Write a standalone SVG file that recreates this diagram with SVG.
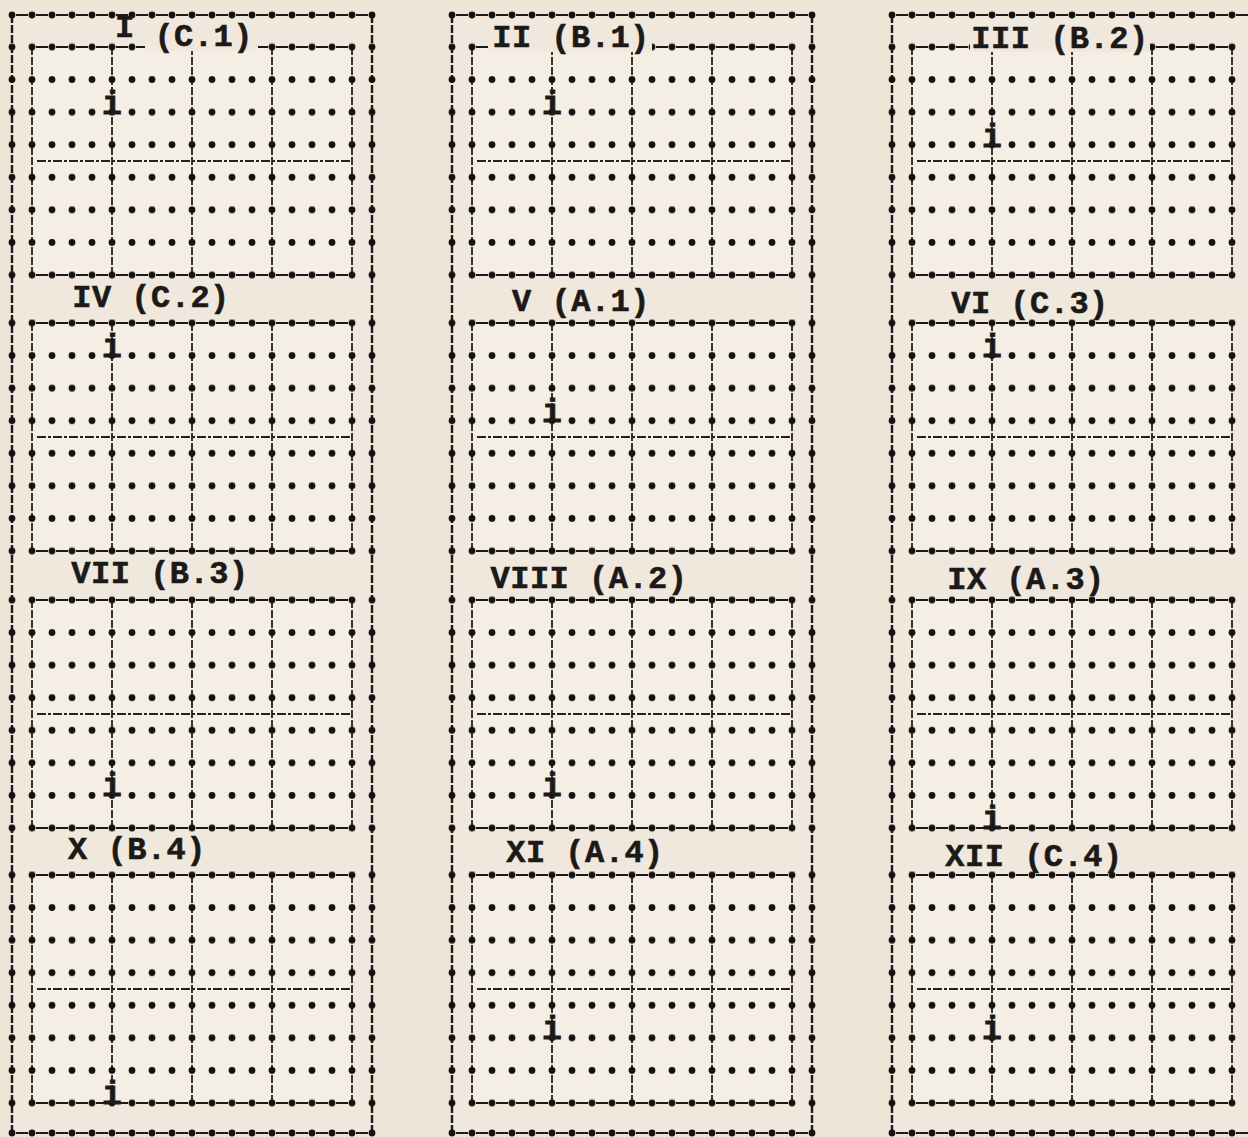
<svg xmlns="http://www.w3.org/2000/svg" xmlns:xlink="http://www.w3.org/1999/xlink" width="1248" height="1137" viewBox="0 0 1248 1137">
<style>
  .title{font-family:"Courier New","Liberation Mono",monospace;font-size:32px;font-weight:bold;fill:#1c1a18;stroke:#1c1a18;stroke-width:0.6px;letter-spacing:0.5px}
  .tc{text-anchor:middle}
  .mark{font-family:"Courier New","Liberation Mono",monospace;font-size:33px;font-weight:bold;fill:#1c1a18;stroke:#1c1a18;stroke-width:0.8px;text-anchor:middle}
  .edge{stroke:#1c1a18;stroke-width:2.2;stroke-dasharray:12 8;stroke-dashoffset:16;fill:none}
  .vline{stroke:#24201d;stroke-width:1.8;stroke-dasharray:8 2;fill:none}
  .mid{stroke:#24201d;stroke-width:2;stroke-dasharray:9 2 3 2;fill:none}
  .frame{stroke:#1c1a18;stroke-width:2.4;stroke-dasharray:8 2;fill:none}
  .ko{fill:#f0e8dc}
</style>
<defs>
  <pattern id="pdots" patternUnits="userSpaceOnUse" x="-10" y="-16.286" width="20" height="32.571">
    <circle cx="10" cy="16.286" r="3.4" fill="#141210"/>
  </pattern>
  <pattern id="hdots" patternUnits="userSpaceOnUse" x="2" y="-10" width="20" height="20">
    <circle cx="10" cy="10" r="3.4" fill="#141210"/>
  </pattern>
  <g id="grid">
    <rect x="0" y="0" width="320" height="228" fill="#f4eee5"/>
    <line class="vline" x1="0" y1="0" x2="0" y2="228"/>
    <line class="vline" x1="80" y1="0" x2="80" y2="228"/>
    <line class="vline" x1="160" y1="0" x2="160" y2="228"/>
    <line class="vline" x1="240" y1="0" x2="240" y2="228"/>
    <line class="vline" x1="320" y1="0" x2="320" y2="228"/>
    <line class="mid" x1="5" y1="114" x2="318" y2="114"/>
    <line class="edge" x1="0" y1="0" x2="320" y2="0"/>
    <line class="edge" x1="0" y1="228" x2="320" y2="228"/>
    <rect x="-30" y="-16.286" width="380" height="260.571" fill="url(#pdots)"/>
  </g>
  <g id="hrow">
    <line class="edge" x1="12" y1="0" x2="372" y2="0"/>
    <rect x="2" y="-10" width="380" height="20" fill="url(#hdots)"/>
  </g>
  <g id="frame">
    <rect x="12" y="15" width="360" height="1118" fill="#f0e8dc"/>
    <line class="frame" x1="12" y1="15" x2="12" y2="1133"/>
    <line class="frame" x1="372" y1="15" x2="372" y2="1133"/>
    <use xlink:href="#hrow" href="#hrow" y="15"/>
    <use xlink:href="#hrow" href="#hrow" y="1133"/>
  </g>
</defs>

<rect x="0" y="0" width="1248" height="1137" fill="#ede5d8"/>

<g id="column-1-frame"><use xlink:href="#frame" href="#frame" x="0"/></g>
<g id="column-2-frame"><use xlink:href="#frame" href="#frame" x="440"/></g>
<g id="column-3-frame"><use xlink:href="#frame" href="#frame" x="880"/></g>

<g id="panel-I">
  <use xlink:href="#grid" href="#grid" x="32" y="47"/>
  <rect class="ko" x="145" y="25" width="113" height="26"/>
  <text class="title" x="115" y="37">I<tspan dy="9"> (C.1)</tspan></text>
  <text class="mark" x="112" y="114">i</text>
</g>
<g id="panel-II">
  <use xlink:href="#grid" href="#grid" x="472" y="47"/>
  <rect class="ko" x="488" y="28" width="164" height="24"/>
  <text class="title tc" x="571" y="47">II (B.1)</text>
  <text class="mark" x="552" y="114">i</text>
</g>
<g id="panel-III">
  <use xlink:href="#grid" href="#grid" x="912" y="47"/>
  <rect class="ko" x="970" y="28" width="180" height="24"/>
  <text class="title tc" x="1060" y="48">III (B.2)</text>
  <text class="mark" x="992" y="146.7">i</text>
</g>

<g id="panel-IV">
  <use xlink:href="#grid" href="#grid" x="32" y="323"/>
  <text class="title tc" x="151" y="307">IV (C.2)</text>
  <text class="mark" x="112" y="356.6">i</text>
</g>
<g id="panel-V">
  <use xlink:href="#grid" href="#grid" x="472" y="323"/>
  <text class="title tc" x="581" y="311">V (A.1)</text>
  <text class="mark" x="552" y="421.7">i</text>
</g>
<g id="panel-VI">
  <use xlink:href="#grid" href="#grid" x="912" y="323"/>
  <text class="title tc" x="1030" y="313">VI (C.3)</text>
  <text class="mark" x="992" y="356.6">i</text>
</g>

<g id="panel-VII">
  <use xlink:href="#grid" href="#grid" x="32" y="600"/>
  <text class="title tc" x="160" y="583">VII (B.3)</text>
  <text class="mark" x="112" y="796.4">i</text>
</g>
<g id="panel-VIII">
  <use xlink:href="#grid" href="#grid" x="472" y="600"/>
  <text class="title tc" x="589" y="588">VIII (A.2)</text>
  <text class="mark" x="552" y="796.4">i</text>
</g>
<g id="panel-IX">
  <use xlink:href="#grid" href="#grid" x="912" y="600"/>
  <text class="title tc" x="1026" y="589">IX (A.3)</text>
  <text class="mark" x="992" y="829">i</text>
</g>

<g id="panel-X">
  <use xlink:href="#grid" href="#grid" x="32" y="875"/>
  <text class="title tc" x="137" y="859">X (B.4)</text>
  <text class="mark" x="112" y="1104">i</text>
</g>
<g id="panel-XI">
  <use xlink:href="#grid" href="#grid" x="472" y="875"/>
  <text class="title tc" x="585" y="862">XI (A.4)</text>
  <text class="mark" x="552" y="1038.9">i</text>
</g>
<g id="panel-XII">
  <use xlink:href="#grid" href="#grid" x="912" y="875"/>
  <text class="title tc" x="1034" y="866">XII (C.4)</text>
  <text class="mark" x="992" y="1038.9">i</text>
</g>

<g id="connectors"></g>
</svg>
